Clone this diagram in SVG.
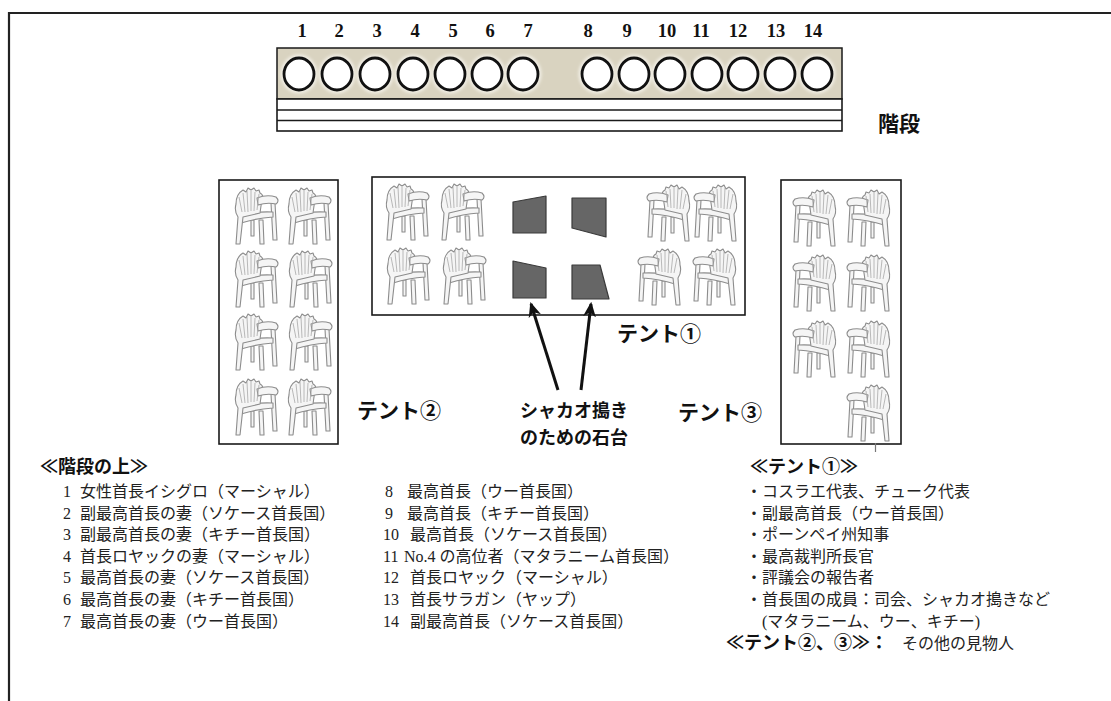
<svg xmlns="http://www.w3.org/2000/svg" xmlns:xlink="http://www.w3.org/1999/xlink" width="1111" height="701" viewBox="0 0 1111 701">
  <style>
    .frame { fill: none; stroke: #222; stroke-width: 2.2; }
    .box { fill: #fff; stroke: #1a1a1a; stroke-width: 1.6; }
    .seat { fill: #fff; stroke: #111; stroke-width: 2.8; }
    .halo { fill: #f1eee5; filter: url(#soft); }
    .stone { fill: #666; stroke: #3a3a3a; stroke-width: 1.2; stroke-linejoin: round; }
    .num { font-family: "Liberation Serif", serif; font-weight: bold; font-size: 18.5px; fill: #111; text-anchor: middle; }
    .lbl { font-family: "Noto Sans CJK JP", sans-serif; font-weight: bold; font-size: 21px; fill: #111; }
    .cap { font-family: "Noto Sans CJK JP", sans-serif; font-weight: bold; font-size: 18px; fill: #111; }
    .ttl { font-family: "Noto Sans CJK JP", sans-serif; font-weight: bold; font-size: 18px; fill: #111; }
    .itm { font-family: "Liberation Serif", "Noto Sans CJK JP", serif; font-size: 16px; fill: #222; }
    .arrow { fill: none; stroke: #111; stroke-width: 3; marker-end: url(#head); }
  </style>
  <defs>
    <filter id="soft" x="-20%" y="-20%" width="140%" height="140%">
      <feGaussianBlur stdDeviation="1.6"/>
    </filter>
    <marker id="head" viewBox="0 0 14 12" markerUnits="userSpaceOnUse" markerWidth="15" markerHeight="13" refX="12" refY="6" orient="auto">
      <path d="M0,0 L14,6 L0,12 L4,6 Z" fill="#111"/>
    </marker>
    <!-- plastic monobloc chair, fan back on the left, arm to the right -->
    <symbol id="chair" viewBox="0 0 46 58">
      <g fill="#f5f5f5" stroke="#8c8c8c" stroke-width="1.1" stroke-linejoin="round">
        <path d="M18,33 L21,33 L21,49 L18,49 Z"/>
        <path d="M38,16 L42,16 L44,53 L40,53 Z"/>
        <path d="M6,29 Q22,24 40,25 L40,30 Q24,31 8,36 Z"/>
        <path d="M26,33 L30,33 L31,57 L27,57 Z"/>
        <path d="M3,17 Q3,7 10,3 L13,5 L15,1 L18,3 L21,1 L23,4 L26,3 L27,6 Q31,8 29,12 L27,26 L10,30 L7,57 L3,57 L5,30 Q1,24 3,17 Z"/>
        <path d="M24,11 Q34,7 43,10 Q47,14 43,17 Q34,15 25,18 Z"/>
      </g>
      <path d="M9,25 L6,10 M12,25 L10,6 M15,25 L14,4 M18,24 L18,4 M21,24 L22,5 M24,23 L26,7" fill="none" stroke="#a8a8a8" stroke-width="0.8"/>
    </symbol>
  </defs>

  <rect width="1111" height="701" fill="#fff"/>
  <path class="frame" d="M9,701 V13 H1111"/>

  <!-- seat numbers above the platform -->
  <g id="seat-numbers">
    <text class="num" x="302" y="37">1</text>
    <text class="num" x="339" y="37">2</text>
    <text class="num" x="377" y="37">3</text>
    <text class="num" x="415" y="37">4</text>
    <text class="num" x="453" y="37">5</text>
    <text class="num" x="490" y="37">6</text>
    <text class="num" x="528" y="37">7</text>
    <text class="num" x="588" y="37">8</text>
    <text class="num" x="627" y="37">9</text>
    <text class="num" x="667" y="37">10</text>
    <text class="num" x="701" y="37">11</text>
    <text class="num" x="738" y="37">12</text>
    <text class="num" x="776" y="37">13</text>
    <text class="num" x="813" y="37">14</text>
  </g>

  <!-- platform with the fourteen seats -->
  <g id="platform">
    <rect x="277" y="48" width="565" height="51" fill="#d9d3c0" stroke="#1a1a1a" stroke-width="1.5"/>
    <g>
      <ellipse class="halo" cx="299" cy="74" rx="18.5" ry="19.5"/>
      <ellipse class="halo" cx="337" cy="74" rx="18.5" ry="19.5"/>
      <ellipse class="halo" cx="375" cy="74" rx="18.5" ry="19.5"/>
      <ellipse class="halo" cx="413" cy="74" rx="18.5" ry="19.5"/>
      <ellipse class="halo" cx="450" cy="74" rx="18.5" ry="19.5"/>
      <ellipse class="halo" cx="487" cy="74" rx="18.5" ry="19.5"/>
      <ellipse class="halo" cx="523" cy="74" rx="18.5" ry="19.5"/>
      <ellipse class="halo" cx="597" cy="74" rx="18.5" ry="19.5"/>
      <ellipse class="halo" cx="634" cy="74" rx="18.5" ry="19.5"/>
      <ellipse class="halo" cx="670" cy="74" rx="18.5" ry="19.5"/>
      <ellipse class="halo" cx="707" cy="74" rx="18.5" ry="19.5"/>
      <ellipse class="halo" cx="743" cy="74" rx="18.5" ry="19.5"/>
      <ellipse class="halo" cx="780" cy="74" rx="18.5" ry="19.5"/>
      <ellipse class="halo" cx="817" cy="74" rx="18.5" ry="19.5"/>
    </g>
    <g>
      <ellipse class="seat" cx="299" cy="74" rx="15" ry="16"/>
      <ellipse class="seat" cx="337" cy="74" rx="15" ry="16"/>
      <ellipse class="seat" cx="375" cy="74" rx="15" ry="16"/>
      <ellipse class="seat" cx="413" cy="74" rx="15" ry="16"/>
      <ellipse class="seat" cx="450" cy="74" rx="15" ry="16"/>
      <ellipse class="seat" cx="487" cy="74" rx="15" ry="16"/>
      <ellipse class="seat" cx="523" cy="74" rx="15" ry="16"/>
      <ellipse class="seat" cx="597" cy="74" rx="15" ry="16"/>
      <ellipse class="seat" cx="634" cy="74" rx="15" ry="16"/>
      <ellipse class="seat" cx="670" cy="74" rx="15" ry="16"/>
      <ellipse class="seat" cx="707" cy="74" rx="15" ry="16"/>
      <ellipse class="seat" cx="743" cy="74" rx="15" ry="16"/>
      <ellipse class="seat" cx="780" cy="74" rx="15" ry="16"/>
      <ellipse class="seat" cx="817" cy="74" rx="15" ry="16"/>
    </g>
  </g>

  <!-- steps -->
  <g id="stairs">
    <rect class="box" x="277" y="99" width="565" height="32" stroke-width="1.5"/>
    <path d="M277,110 H842 M277,120.5 H842" stroke="#1a1a1a" stroke-width="1.5"/>
    <text class="lbl" x="878" y="131">階段</text>
  </g>

  <!-- tent 1: centre -->
  <g id="tent1">
    <rect class="box" x="372" y="177" width="373" height="138"/>
    <use href="#chair" x="384" y="183" width="46" height="58"/>
    <use href="#chair" x="439" y="183" width="46" height="58"/>
    <use href="#chair" x="385" y="247" width="46" height="58"/>
    <use href="#chair" x="441" y="247" width="46" height="58"/>
    <use href="#chair" width="46" height="58" transform="translate(692,184) scale(-1,1)"/>
    <use href="#chair" width="46" height="58" transform="translate(739,184) scale(-1,1)"/>
    <use href="#chair" width="46" height="58" transform="translate(683,248) scale(-1,1)"/>
    <use href="#chair" width="46" height="58" transform="translate(738,248) scale(-1,1)"/>
    <text class="lbl" x="617" y="341">テント①</text>
  </g>

  <!-- stone tables for pounding sakau -->
  <g id="stones">
    <polygon class="stone" points="513,202 546,196 546,233 513,233"/>
    <polygon class="stone" points="572,198 606,198 606,237 572,228"/>
    <polygon class="stone" points="513,261 546,268 546,298 513,298"/>
    <polygon class="stone" points="572,265 600,265 609,299 572,299"/>
  </g>

  <!-- tent 2: left -->
  <g id="tent2">
    <rect class="box" x="219" y="180" width="119" height="264"/>
    <use href="#chair" x="233" y="187" width="46" height="58"/>
    <use href="#chair" x="286" y="187" width="46" height="58"/>
    <use href="#chair" x="233" y="250" width="46" height="58"/>
    <use href="#chair" x="287" y="250" width="46" height="58"/>
    <use href="#chair" x="233" y="313" width="46" height="58"/>
    <use href="#chair" x="287" y="313" width="46" height="58"/>
    <use href="#chair" x="233" y="378" width="46" height="58"/>
    <use href="#chair" x="286" y="378" width="46" height="58"/>
    <text class="lbl" x="357" y="418">テント②</text>
  </g>

  <!-- tent 3: right -->
  <g id="tent3">
    <rect class="box" x="781" y="180" width="120" height="264"/>
    <use href="#chair" width="46" height="58" transform="translate(838,189) scale(-1,1)"/>
    <use href="#chair" width="46" height="58" transform="translate(892,189) scale(-1,1)"/>
    <use href="#chair" width="46" height="58" transform="translate(838,254) scale(-1,1)"/>
    <use href="#chair" width="46" height="58" transform="translate(892,254) scale(-1,1)"/>
    <use href="#chair" width="46" height="58" transform="translate(838,320) scale(-1,1)"/>
    <use href="#chair" width="46" height="58" transform="translate(892,320) scale(-1,1)"/>
    <use href="#chair" width="46" height="58" transform="translate(892,384) scale(-1,1)"/>
    <path d="M875.5,443 V452" stroke="#777" stroke-width="1.2"/>
    <text class="lbl" x="678" y="420">テント③</text>
  </g>

  <!-- arrows from the caption to the stones -->
  <g id="connectors">
    <path class="arrow" d="M558,390 L531,304"/>
    <path class="arrow" d="M581,390 L591,304"/>
  </g>
  <g id="stone-caption">
    <text class="cap" x="520" y="417">シャカオ搗き</text>
    <text class="cap" x="520" y="444">のための石台</text>
  </g>

  <!-- legend: seats on the platform -->
  <g id="legend-stairs">
    <text class="ttl" x="40" y="473">≪階段の上≫</text>
    <g class="itm">
      <text x="71" y="497" text-anchor="end">1</text>
      <text x="80" y="497">女性首長イシグロ（マーシャル）</text>
      <text x="71" y="518.6" text-anchor="end">2</text>
      <text x="80" y="518.6">副最高首長の妻（ソケース首長国）</text>
      <text x="71" y="540.2" text-anchor="end">3</text>
      <text x="80" y="540.2">副最高首長の妻（キチー首長国）</text>
      <text x="71" y="561.8" text-anchor="end">4</text>
      <text x="80" y="561.8">首長ロヤックの妻（マーシャル）</text>
      <text x="71" y="583.4" text-anchor="end">5</text>
      <text x="80" y="583.4">最高首長の妻（ソケース首長国）</text>
      <text x="71" y="605" text-anchor="end">6</text>
      <text x="80" y="605">最高首長の妻（キチー首長国）</text>
      <text x="71" y="626.6" text-anchor="end">7</text>
      <text x="80" y="626.6">最高首長の妻（ウー首長国）</text>

      <text x="385" y="497">8</text>
      <text x="407" y="497">最高首長（ウー首長国）</text>
      <text x="385" y="518.6">9</text>
      <text x="407" y="518.6">最高首長（キチー首長国）</text>
      <text x="383" y="540.2">10</text>
      <text x="410" y="540.2">最高首長（ソケース首長国）</text>
      <text x="383" y="561.8">11</text>
      <text x="404" y="561.8">No.4 の高位者（マタラニーム首長国）</text>
      <text x="383" y="583.4">12</text>
      <text x="410" y="583.4">首長ロヤック（マーシャル）</text>
      <text x="383" y="605">13</text>
      <text x="410" y="605">首長サラガン（ヤップ）</text>
      <text x="383" y="626.6">14</text>
      <text x="410" y="626.6">副最高首長（ソケース首長国）</text>
    </g>
  </g>

  <!-- legend: tents -->
  <g id="legend-tents">
    <text class="ttl" x="750" y="473">≪テント①≫</text>
    <g class="itm">
      <text x="746" y="497">・コスラエ代表、チューク代表</text>
      <text x="746" y="518.6">・副最高首長（ウー首長国）</text>
      <text x="746" y="540.2">・ポーンペイ州知事</text>
      <text x="746" y="561.8">・最高裁判所長官</text>
      <text x="746" y="583.4">・評議会の報告者</text>
      <text x="746" y="605">・首長国の成員：司会、シャカオ搗きなど</text>
      <text x="762" y="626.6">(マタラニーム、ウー、キチー)</text>
    </g>
    <text x="726" y="649"><tspan class="ttl">≪テント②、③≫：</tspan><tspan class="itm" dx="14">その他の見物人</tspan></text>
  </g>
</svg>
